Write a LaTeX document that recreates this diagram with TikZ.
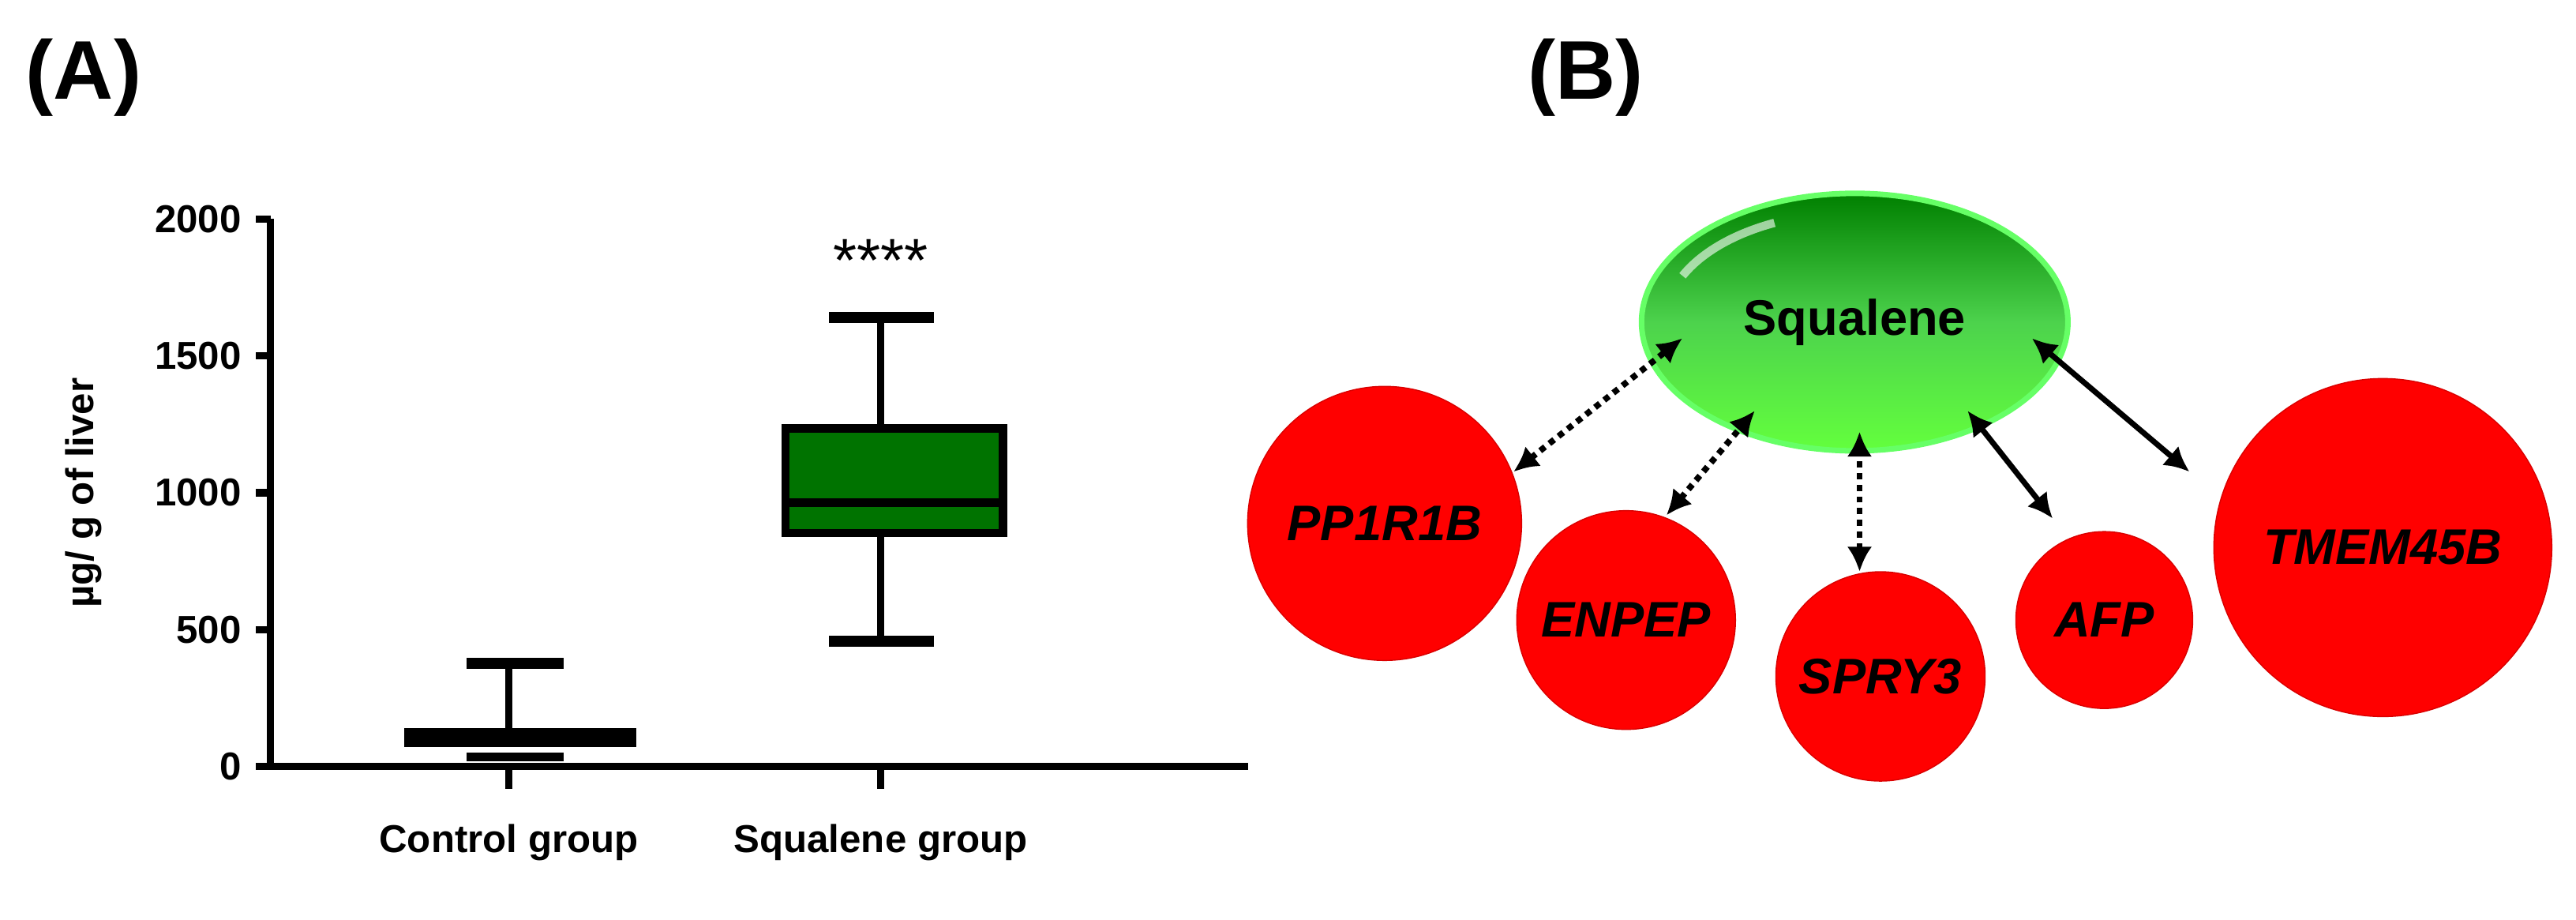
\documentclass[tikz,border=0pt]{standalone}
\usepackage{fontspec}
\setmainfont{Liberation Sans}
\usetikzlibrary{arrows.meta,shapes.geometric}
\begin{document}
\begin{tikzpicture}[x=0.2039mm,y=-0.2039mm,
  ax/.style={line width=2.6pt},
  lab/.style={font=\fontsize{14}{16}\selectfont\bfseries},
  gene/.style={circle,fill=red,draw=red!85!black,inner sep=0pt,font=\fontsize{18}{20}\selectfont\bfseries\itshape},
  dot/.style={line width=2.2pt,dotted,{Latex[length=9pt,width=9pt]}-{Latex[length=9pt,width=9pt]}},
  sol/.style={line width=2pt,{Latex[length=9pt,width=9pt]}-{Latex[length=9pt,width=9pt]}}]
\useasboundingbox (0,0) rectangle (1600,571);
% Panel labels
\node[font=\fontsize{30}{32}\selectfont\bfseries] (pa) at (52,48) {(A)};
\node[font=\fontsize{30}{32}\selectfont\bfseries] (pb) at (985,48) {(B)};
% axes
\draw[ax] (168,136) -- (168,476) -- (775,476);
\foreach \v/\y in {2000/136,1500/221,1000/306,500/391,0/476}{
  \draw[ax] (159,\y) -- (168,\y);
  \node[lab,anchor=east] (t\v) at (156,\y) {\v};}
\draw[ax] (316,476) -- (316,490);
\draw[ax] (547,476) -- (547,490);
\node[lab] (c1) at (316,523) {Control group};
\node[lab] (c2) at (547,523) {Squalene group};
\node[lab,rotate=90] (yl) at (52,306) {µg/ g of liver};
% control box
\draw[ax] (316,412) -- (316,458);
\draw[line width=4pt] (290,412) -- (350,412);
\fill (251,452) rectangle (395,464);
\draw[line width=3pt] (290,470) -- (350,470);
% squalene box
\draw[ax] (547,197) -- (547,266);
\draw[ax] (547,331) -- (547,398);
\draw[line width=4pt] (515,197) -- (580,197);
\draw[line width=4pt] (515,398) -- (580,398);
\draw[line width=3pt,fill=green!45!black] (488,266) rectangle (623,331);
\draw[line width=3pt] (488,312) -- (623,312);
\node[font=\fontsize{22}{24}\selectfont] (st) at (547,162) {****};
% Panel B
\node[ellipse,draw=green!60!white,line width=2pt,minimum width=54mm,minimum height=32.6mm,
  top color=green!50!black,bottom color=green!70!white!80!lime,middle color=green!75!black!70!white,
  font=\fontsize{18}{20}\selectfont\bfseries] (sq) at (1152,200) {Squalene};
\draw[white,line width=3pt,opacity=0.6] (sq.center) ++(205:118 and 68) arc[start angle=205,end angle=245,x radius=118,y radius=68];
\node[gene,minimum size=34.7mm] (g1) at (860,325) {PP1R1B};
\node[gene,minimum size=27.7mm] (g2) at (1010,385) {ENPEP};
\node[gene,minimum size=26.5mm] (g3) at (1168,420) {SPRY3};
\node[gene,minimum size=22.4mm] (g4) at (1307,385) {AFP};
\node[gene,minimum size=42.8mm] (g5) at (1480,340) {TMEM45B};
\coordinate (a1) at (940,293); \coordinate (b1) at (1045,210);
\coordinate (a2) at (1035,320); \coordinate (b2) at (1090,255);
\coordinate (a3) at (1155,355); \coordinate (b3) at (1155,268);
\coordinate (a4) at (1275,322); \coordinate (b4) at (1222,255);
\coordinate (a5) at (1360,293); \coordinate (b5) at (1262,210);
\draw[dot] (a1) -- (b1);
\draw[dot] (a2) -- (b2);
\draw[dot] (a3) -- (b3);
\draw[sol] (a4) -- (b4);
\draw[sol] (a5) -- (b5);
\end{tikzpicture}
\end{document}
